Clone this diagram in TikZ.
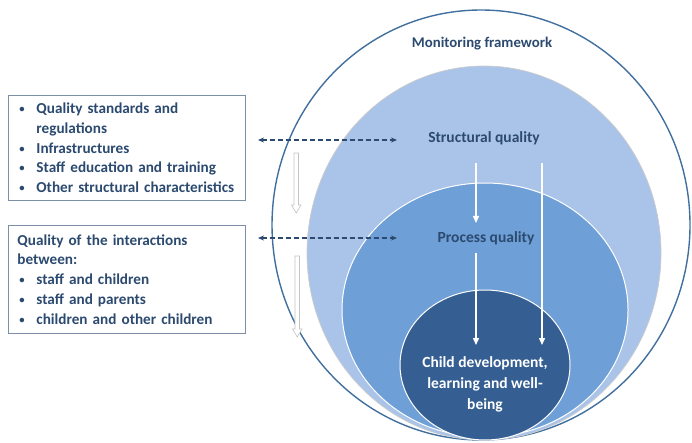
\documentclass[tikz,border=0pt]{standalone}
\usepackage{fontspec}
\usepackage{graphicx}
\setmainfont{Carlito}
\usetikzlibrary{arrows.meta}
\definecolor{txt}{HTML}{2C4A70}
\definecolor{outerc}{HTML}{41709F}
\definecolor{lightc}{HTML}{A9C4E8}
\definecolor{midc}{HTML}{6E9FD6}
\definecolor{darkc}{HTML}{355F92}
\definecolor{boxc}{HTML}{7D8FA6}
\definecolor{hollowc}{HTML}{C4C4C4}
\tikzset{
  infobox/.style={draw=boxc, line width=0.9pt, anchor=north west, minimum width=237pt,
    text width=219pt, inner xsep=9pt, inner ysep=0pt, align=left, text=txt,
    font=\fontsize{15.2pt}{19.75pt}\selectfont\bfseries},
  label/.style={text=txt, font=\fontsize{15.5pt}{18pt}\selectfont\bfseries, inner sep=1pt},
  warrow/.style={white, line width=1.4pt, -{Triangle[width=6pt,length=7pt]}},
  darrow/.style={txt, line width=1.2pt, dash pattern=on 5pt off 3pt,
    {Stealth[length=6pt,width=5pt]}-{Stealth[length=6pt,width=5pt]}},
  hollowarrow/.style={draw=hollowc, fill=white, line width=0.6pt},
}
\newcommand{\bul}{\makebox[19pt][l]{\hspace{2pt}\raisebox{1pt}{\scalebox{0.7}{\textbullet}}}}
\newcommand{\nohyph}{\hyphenpenalty=10000 \exhyphenpenalty=10000 }
\begin{document}
\begin{tikzpicture}[x=1pt,y=-1pt]
\useasboundingbox (0,0) rectangle (692,443);
\fill[white] (0,0) rectangle (692,443);

% ellipses
\draw[outerc, line width=1.4pt] (481,225) ellipse [x radius=209pt, y radius=215pt];
\draw[fill=lightc, draw=gray!40, line width=0.7pt] (484,253) ellipse [x radius=177pt, y radius=187pt];
\draw[fill=midc, draw=white, line width=1pt] (485,310) ellipse [x radius=143pt, y radius=127pt];
\draw[fill=darkc, draw=white, line width=1pt] (485,365) ellipse [x radius=85pt, y radius=75pt];

% hollow arrows
\draw[hollowarrow] (294,153) -- (298.5,153) -- (298.5,205) -- (301,205) -- (296.25,213) -- (291.5,205) -- (294,205) -- cycle;
\draw[hollowarrow] (295,256) -- (299.5,256) -- (299.5,329) -- (302,329) -- (297.25,337) -- (292.5,329) -- (295,329) -- cycle;

% boxes
\node[infobox, minimum height=105pt] (box1) at (8,95) {\nohyph
\bul Quality standards and\\
\hspace*{19pt}regulations\\
\bul Infrastructures\\
\bul Staff education and training\\
\bul Other structural characteristics};
\node[infobox, minimum height=108pt] (box2) at (8,225) {\nohyph
Quality of the interactions\\
between:\\
\bul staff and children\\
\bul staff and parents\\
\bul children and other children};

% labels
\node[label, font=\fontsize{14.8pt}{18pt}\selectfont\bfseries] (monitor) at (482,44) {Monitoring framework};
\node[label] (structural) at (484,138) {Structural quality};
\node[label] (process) at (486,238) {Process quality};
\node[text=white, align=center, font=\fontsize{15.5pt}{21pt}\selectfont\bfseries] (child) at (485,384)
  {Child development,\\learning and well-\\being};

% connector end points
\coordinate (a1s) at (476,163);
\coordinate (a1e) at (476,223);
\coordinate (a2s) at (542,163);
\coordinate (a2e) at (542,345);
\coordinate (a3s) at (476,253);
\coordinate (a3e) at (476,345);
\coordinate (d1s) at (258,140);
\coordinate (d1e) at (397,140);
\coordinate (d2s) at (258,238);
\coordinate (d2e) at (397,238);

\draw[warrow] (a1s) -- (a1e);
\draw[warrow] (a2s) -- (a2e);
\draw[warrow] (a3s) -- (a3e);
\draw[darrow] (d1s) -- (d1e);
\draw[darrow] (d2s) -- (d2e);
\end{tikzpicture}
\end{document}
